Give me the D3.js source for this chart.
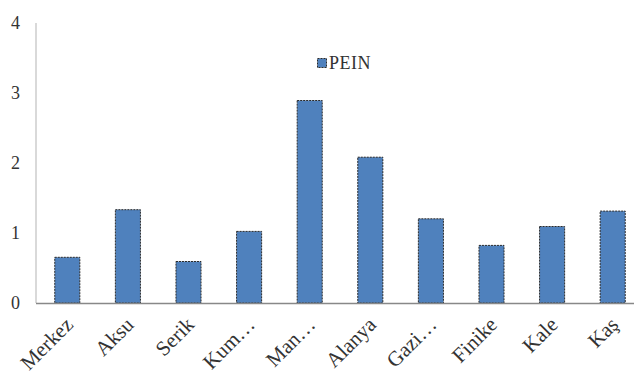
<!DOCTYPE html>
<html>
<head>
<meta charset="utf-8">
<script src="https://cdn.jsdelivr.net/npm/d3@7"></script>
<style>
html,body{margin:0;padding:0;background:#fff;}
svg{display:block;}
text{font-family:"Liberation Serif","Times New Roman",serif;}
</style>
</head>
<body>
<svg id="chart" width="634" height="372"></svg>
<script>
const categories = ["Merkez","Aksu","Serik","Kum\u2026","Man\u2026","Alanya","Gazi\u2026","Finike","Kale","Ka\u015f"];
const values = [0.66, 1.34, 0.60, 1.03, 2.90, 2.09, 1.21, 0.83, 1.10, 1.32];
const seriesName = "PEIN";
const yTicks = [0,1,2,3,4];

const svg = d3.select("#chart");
const x = d3.scaleBand().domain(categories).range([37, 643]).paddingInner(0.57).paddingOuter(0.285);
const y = d3.scaleLinear().domain([0,4]).range([303, 23]);

// y axis line
svg.append("line").attr("x1",36).attr("x2",36).attr("y1",y(4)).attr("y2",y(0))
  .attr("stroke","#d9d9d9").attr("stroke-width",2);

// bars
svg.append("g").selectAll("rect").data(values).join("rect")
  .attr("x",(d,i)=>x(categories[i])+0.5)
  .attr("y",d=>y(d)+0.5)
  .attr("width",x.bandwidth()-1)
  .attr("height",d=>y(0)-y(d)-0.5)
  .attr("fill","#4f81bd")
  .attr("stroke","#2b2b2b")
  .attr("stroke-width",1)
  .attr("stroke-dasharray","2,1");

// x axis line
svg.append("line").attr("x1",36).attr("x2",634).attr("y1",y(0)+0.5).attr("y2",y(0)+0.5)
  .attr("stroke","#888888").attr("stroke-width",1.5);

// y tick labels
const yAxis = d3.axisLeft(y).tickValues(yTicks).tickSize(0).tickPadding(0).tickFormat(d3.format("d"));
const yg = svg.append("g").attr("transform","translate(20,0)").call(yAxis);
yg.select(".domain").remove();
yg.selectAll("text").attr("font-size",18).attr("fill","#333333")
  .style("font-family","'Liberation Serif','Times New Roman',serif");

// x labels
const xAxis = d3.axisBottom(x).tickSize(0).tickPadding(0);
const xg = svg.append("g").attr("transform","translate(0,"+(y(0))+")").call(xAxis);
xg.select(".domain").remove();
xg.selectAll(".tick text")
  .attr("font-size",21).attr("fill","#333333")
  .style("font-family","'Liberation Serif','Times New Roman',serif")
  .attr("text-anchor","end")
  .attr("dy",null).attr("y",0).attr("x",0)
  .attr("transform","translate(2,18) rotate(-45)")
  .attr("dominant-baseline","central");

// legend
const lg = svg.append("g").attr("transform","translate(317,58)");
lg.append("rect").attr("x",0.5).attr("y",0.5).attr("width",9).attr("height",9)
  .attr("fill","#4f81bd").attr("stroke","#2b2b2b").attr("stroke-width",1).attr("stroke-dasharray","2,1");
lg.append("text").attr("x",12).attr("y",10.5).attr("font-size",18).attr("fill","#333333")
  .style("font-family","'Liberation Serif','Times New Roman',serif")
  .attr("letter-spacing",0.5).text(seriesName);
</script>
</body>
</html>
